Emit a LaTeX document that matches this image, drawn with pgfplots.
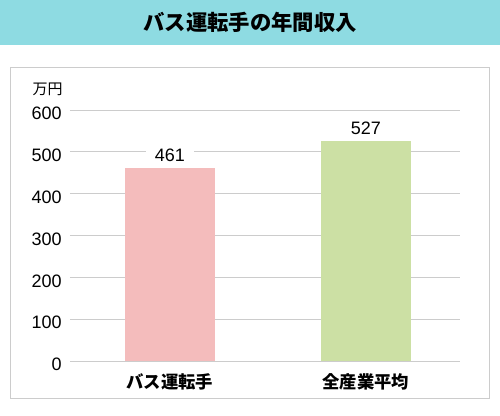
\documentclass[border=0pt]{standalone}
\usepackage{fontspec}
\setmainfont{Noto Sans CJK JP}
\newfontfamily\numfont{Liberation Sans}
\usepackage{pgfplots}
\pgfplotsset{compat=1.18}
\definecolor{titlebg}{HTML}{8EDBE2}
\definecolor{pinkbar}{HTML}{F4BCBC}
\definecolor{greenbar}{HTML}{CCE0A4}
\definecolor{gridc}{HTML}{CCCCCC}
\begin{document}
\begin{tikzpicture}[x=0.75pt,y=0.75pt]
\fill[white] (0,0) rectangle (500,415);
\fill[titlebg] (0,370) rectangle (500,415);
\node[font=\fontsize{16pt}{19pt}\selectfont\bfseries, inner sep=0pt] at (250,392.5) {バス運転手の年間収入};
\draw[gridc, line width=0.75pt] (10.5,16.5) rectangle (489.5,347);
\node[font=\fontsize{11.25pt}{13pt}\selectfont, inner sep=0pt] at (47.7,326) {万円};
\begin{axis}[
  at={(52.5pt,40.5pt)}, anchor=south west,
  scale only axis, width=292.5pt, height=188.25pt,
  xmin=-0.51, xmax=1.48, ymin=0, ymax=600,
  ytick={0,100,...,600},
  xtick={0,1}, xticklabels={バス運転手,全産業平均},
  axis line style={draw=none},
  major tick length=0pt,
  ymajorgrids, grid style={gridc, line width=0.75pt},
  /pgf/number format/assume math mode=true,
  yticklabel style={font=\fontsize{13.5pt}{16pt}\selectfont\numfont, inner sep=0pt, anchor=east, xshift=-6pt, yshift=-2.7pt},
  xticklabel style={font=\fontsize{13pt}{15pt}\selectfont\bfseries, inner sep=0pt, anchor=center, yshift=-16pt},
  nodes near coords,
  nodes near coords style={font=\fontsize{13.5pt}{16pt}\selectfont\numfont, text=black, fill=white, inner xsep=6.5pt, inner ysep=0pt, anchor=south, yshift=4.5pt},
  clip=false,
]
\addplot[ybar, bar width=67.5pt, fill=pinkbar, draw=none] coordinates {(0,461)};
\addplot[ybar, bar width=67.5pt, fill=greenbar, draw=none] coordinates {(1,527)};
\end{axis}
\end{tikzpicture}
\end{document}
